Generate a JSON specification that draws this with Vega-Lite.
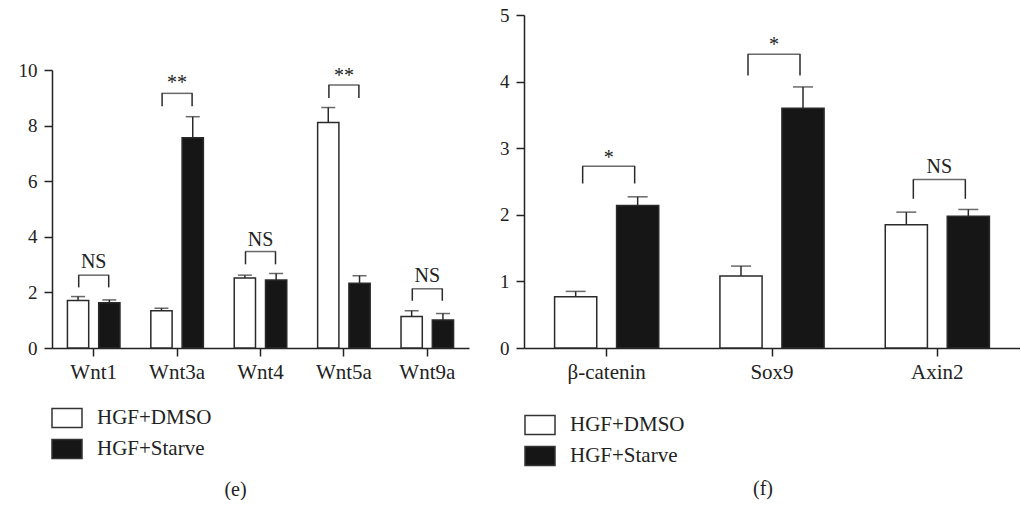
{
  "$schema": "https://vega.github.io/schema/vega-lite/v6.json",
  "background": "white",
  "padding": {"left": 18, "top": 6, "right": 0, "bottom": 0},
  "spacing": 30,
  "resolve": {"scale": {"xOffset": "independent", "color": "independent"}, "legend": {"color": "independent"}},
  "config": {
    "view": {"stroke": null},
    "font": "Liberation Serif",
    "title": {"font": "Liberation Serif", "fontSize": 20, "fontWeight": "normal", "color": "#222"},
    "axis": {
      "labelFont": "Liberation Serif", "labelFontSize": 19, "labelColor": "#222",
      "domainColor": "#222", "domainWidth": 1.5, "tickColor": "#222", "tickWidth": 1.5, "tickSize": 8,
      "grid": false, "title": null
    },
    "axisX": {"labelFontSize": 21},
    "legend": {
      "labelFont": "Liberation Serif", "labelFontSize": 21, "labelColor": "#222"
    }
  },
  "datasets": {
    "e": [
      {"gene": "Wnt1", "group": "HGF+DMSO", "value": 1.71, "upper": 1.85},
      {"gene": "Wnt1", "group": "HGF+Starve", "value": 1.63, "upper": 1.73},
      {"gene": "Wnt3a", "group": "HGF+DMSO", "value": 1.34, "upper": 1.43},
      {"gene": "Wnt3a", "group": "HGF+Starve", "value": 7.56, "upper": 8.32},
      {"gene": "Wnt4", "group": "HGF+DMSO", "value": 2.52, "upper": 2.62},
      {"gene": "Wnt4", "group": "HGF+Starve", "value": 2.45, "upper": 2.68},
      {"gene": "Wnt5a", "group": "HGF+DMSO", "value": 8.11, "upper": 8.65},
      {"gene": "Wnt5a", "group": "HGF+Starve", "value": 2.33, "upper": 2.6},
      {"gene": "Wnt9a", "group": "HGF+DMSO", "value": 1.13, "upper": 1.34},
      {"gene": "Wnt9a", "group": "HGF+Starve", "value": 1.01, "upper": 1.24}
    ],
    "eAnn": [
      {"gene": "Wnt1", "label": "NS", "top": 2.62, "bottom": 2.18, "texty": 2.87},
      {"gene": "Wnt3a", "label": "**", "top": 9.16, "bottom": 8.7, "texty": 9.32},
      {"gene": "Wnt4", "label": "NS", "top": 3.47, "bottom": 3.01, "texty": 3.68},
      {"gene": "Wnt5a", "label": "**", "top": 9.46, "bottom": 8.99, "texty": 9.57},
      {"gene": "Wnt9a", "label": "NS", "top": 2.13, "bottom": 1.7, "texty": 2.39}
    ],
    "f": [
      {"gene": "β-catenin", "group": "HGF+DMSO", "value": 0.77, "upper": 0.85},
      {"gene": "β-catenin", "group": "HGF+Starve", "value": 2.14, "upper": 2.27},
      {"gene": "Sox9", "group": "HGF+DMSO", "value": 1.08, "upper": 1.23},
      {"gene": "Sox9", "group": "HGF+Starve", "value": 3.6, "upper": 3.92},
      {"gene": "Axin2", "group": "HGF+DMSO", "value": 1.85, "upper": 2.04},
      {"gene": "Axin2", "group": "HGF+Starve", "value": 1.98, "upper": 2.08}
    ],
    "fAnn": [
      {"gene": "β-catenin", "label": "*", "top": 2.73, "bottom": 2.47, "texty": 2.77},
      {"gene": "Sox9", "label": "*", "top": 4.41, "bottom": 4.09, "texty": 4.46},
      {"gene": "Axin2", "label": "NS", "top": 2.53, "bottom": 2.24, "texty": 2.63}
    ]
  },
  "hconcat": [
    {
      "width": 417,
      "height": 333,
      "title": {"text": "(e)", "orient": "bottom", "anchor": "middle", "dx": -25, "offset": 18, "font": "Liberation Serif", "fontSize": 20, "fontWeight": "normal", "color": "#222"},
      "encoding": {
        "x": {"field": "gene", "type": "nominal", "scale": {"domain": ["Wnt1", "Wnt3a", "Wnt4", "Wnt5a", "Wnt9a"], "paddingInner": 0.25, "paddingOuter": 0.125}, "axis": {"labelAngle": 0, "labelPadding": 5}},
        "y": {"type": "quantitative", "scale": {"domain": [0, 10], "range": [333, 55], "nice": false}, "axis": {"values": [0, 2, 4, 6, 8, 10], "labelPadding": 7}}
      },
      "layer": [
        {
          "data": {"name": "e"},
          "mark": {"type": "bar", "stroke": "#2a2a2a", "strokeWidth": 1.5},
          "encoding": {
            "xOffset": {"field": "group", "type": "nominal", "scale": {"domain": ["HGF+DMSO", "HGF+Starve"], "paddingInner": 0.32, "paddingOuter": 0.16}},
            "y": {"field": "value", "type": "quantitative"},
            "color": {"field": "group", "type": "nominal", "scale": {"domain": ["HGF+DMSO", "HGF+Starve"], "range": ["#ffffff", "#161616"]},
              "legend": {"title": null, "orient": "none", "legendX": -1, "legendY": 387, "padding": 0, "rowPadding": 2, "labelOffset": 14,
                "symbolType": "M-1,-0.633H1V0.633H-1Z", "symbolSize": 900, "symbolStrokeColor": "#333", "symbolStrokeWidth": 1.5}}
          }
        },
        {
          "data": {"name": "e"},
          "mark": {"type": "rule", "color": "#2a2a2a", "strokeWidth": 1.5},
          "encoding": {
            "xOffset": {"field": "group", "type": "nominal"},
            "y": {"field": "value", "type": "quantitative"},
            "y2": {"field": "upper"}
          }
        },
        {
          "data": {"name": "e"},
          "mark": {"type": "tick", "color": "#2a2a2a", "thickness": 1.5, "size": 14},
          "encoding": {
            "xOffset": {"field": "group", "type": "nominal"},
            "y": {"field": "upper", "type": "quantitative"}
          }
        },
        {
          "data": {"name": "eAnn"},
          "mark": {"type": "tick", "color": "#2a2a2a", "thickness": 1.5, "size": 31},
          "encoding": {"y": {"field": "top", "type": "quantitative"}}
        },
        {
          "data": {"name": "eAnn"},
          "mark": {"type": "rule", "color": "#2a2a2a", "strokeWidth": 1.5, "xOffset": -15},
          "encoding": {"y": {"field": "top", "type": "quantitative"}, "y2": {"field": "bottom"}}
        },
        {
          "data": {"name": "eAnn"},
          "mark": {"type": "rule", "color": "#2a2a2a", "strokeWidth": 1.5, "xOffset": 15},
          "encoding": {"y": {"field": "top", "type": "quantitative"}, "y2": {"field": "bottom"}}
        },
        {
          "data": {"name": "eAnn"},
          "mark": {"type": "text", "font": "Liberation Serif", "fontSize": 20, "color": "#222", "baseline": "alphabetic"},
          "encoding": {"y": {"field": "texty", "type": "quantitative"}, "text": {"field": "label"}}
        }
      ]
    },
    {
      "width": 496,
      "height": 333,
      "title": {"text": "(f)", "orient": "bottom", "anchor": "middle", "dx": -9, "offset": 10, "font": "Liberation Serif", "fontSize": 20, "fontWeight": "normal", "color": "#222"},
      "encoding": {
        "x": {"field": "gene", "type": "nominal", "scale": {"domain": ["β-catenin", "Sox9", "Axin2"], "paddingInner": 0.25, "paddingOuter": 0.125}, "axis": {"labelAngle": 0, "labelPadding": 5}},
        "y": {"type": "quantitative", "scale": {"domain": [0, 5], "nice": false}, "axis": {"values": [0, 1, 2, 3, 4, 5], "labelPadding": 7}}
      },
      "layer": [
        {
          "data": {"name": "f"},
          "mark": {"type": "bar", "stroke": "#2a2a2a", "strokeWidth": 1.5},
          "encoding": {
            "xOffset": {"field": "group", "type": "nominal", "scale": {"domain": ["HGF+DMSO", "HGF+Starve"], "paddingInner": 0.32, "paddingOuter": 0.16}},
            "y": {"field": "value", "type": "quantitative"},
            "color": {"field": "group", "type": "nominal", "scale": {"domain": ["HGF+DMSO", "HGF+Starve"], "range": ["#ffffff", "#161616"]},
              "legend": {"title": null, "orient": "none", "legendX": 0, "legendY": 394, "padding": 0, "rowPadding": 2, "labelOffset": 14,
                "symbolType": "M-1,-0.633H1V0.633H-1Z", "symbolSize": 900, "symbolStrokeColor": "#333", "symbolStrokeWidth": 1.5}}
          }
        },
        {
          "data": {"name": "f"},
          "mark": {"type": "rule", "color": "#2a2a2a", "strokeWidth": 1.5},
          "encoding": {
            "xOffset": {"field": "group", "type": "nominal"},
            "y": {"field": "value", "type": "quantitative"},
            "y2": {"field": "upper"}
          }
        },
        {
          "data": {"name": "f"},
          "mark": {"type": "tick", "color": "#2a2a2a", "thickness": 1.5, "size": 20},
          "encoding": {
            "xOffset": {"field": "group", "type": "nominal"},
            "y": {"field": "upper", "type": "quantitative"}
          }
        },
        {
          "data": {"name": "fAnn"},
          "mark": {"type": "tick", "color": "#2a2a2a", "thickness": 1.5, "size": 53, "xOffset": 2},
          "encoding": {"y": {"field": "top", "type": "quantitative"}}
        },
        {
          "data": {"name": "fAnn"},
          "mark": {"type": "rule", "color": "#2a2a2a", "strokeWidth": 1.5, "xOffset": -24},
          "encoding": {"y": {"field": "top", "type": "quantitative"}, "y2": {"field": "bottom"}}
        },
        {
          "data": {"name": "fAnn"},
          "mark": {"type": "rule", "color": "#2a2a2a", "strokeWidth": 1.5, "xOffset": 28},
          "encoding": {"y": {"field": "top", "type": "quantitative"}, "y2": {"field": "bottom"}}
        },
        {
          "data": {"name": "fAnn"},
          "mark": {"type": "text", "font": "Liberation Serif", "fontSize": 20, "color": "#222", "baseline": "alphabetic", "dx": 2},
          "encoding": {"y": {"field": "texty", "type": "quantitative"}, "text": {"field": "label"}}
        }
      ]
    }
  ]
}
